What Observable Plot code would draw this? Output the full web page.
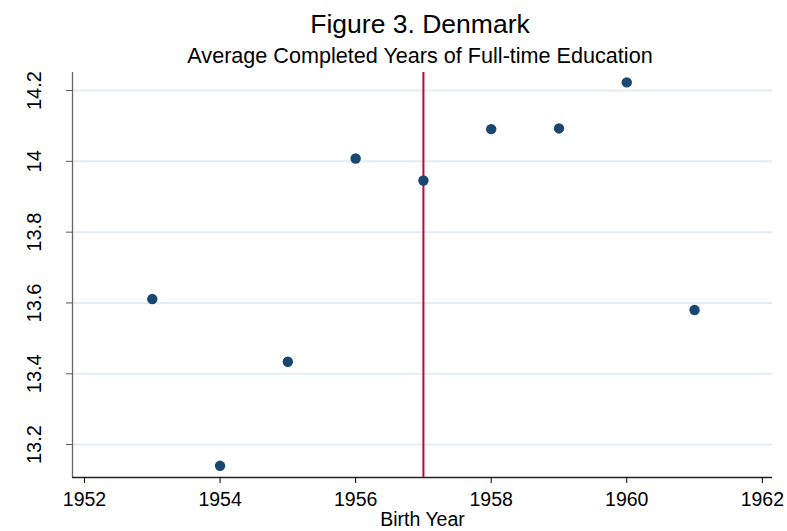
<!DOCTYPE html>
<html>
<head>
<meta charset="utf-8">
<script src="https://cdn.jsdelivr.net/npm/d3@7"></script>
<script src="https://cdn.jsdelivr.net/npm/@observablehq/plot@0.6"></script>
<style>
  body { margin: 0; background: #fff; font-family: "Liberation Sans", Arial, sans-serif; }
  #wrap { width: 787px; height: 531px; overflow: hidden; }
  #head { position: relative; height: 62px; }
  #title, #subtitle { position: absolute; left: 52px; width: 736px; text-align: center; color: #000; white-space: nowrap; }
  #title { font-size: 26.5px; line-height: 26.5px; top: 10.5px; }
  #subtitle { font-size: 21.6px; line-height: 21.6px; top: 44.5px; }
</style>
</head>
<body>
<div id="wrap">
  <div id="head">
    <div id="title">Figure 3. Denmark</div>
    <div id="subtitle">Average Completed Years of Full-time Education</div>
  </div>
  <div id="chart"></div>
</div>
<script>
// Data
const years = [1953, 1954, 1955, 1956, 1957, 1958, 1959, 1960, 1961];
const avgYears = [13.611, 13.140, 13.434, 14.008, 13.946, 14.091, 14.093, 14.223, 13.580];
const cutoffYear = [1957];
const xTicks = [1952, 1954, 1956, 1958, 1960, 1962];
const yTicks = [13.2, 13.4, 13.6, 13.8, 14, 14.2];
const xDomain = [1951.823, 1962.15];
const yDomain = [13.107, 14.251];

const data = years.map((y, i) => ({year: y, value: avgYears[i]}));
const font = "Liberation Sans, Arial, sans-serif";

const chart = Plot.plot({
  width: 787,
  height: 469,
  marginTop: 10,
  marginBottom: 54,
  marginLeft: 72,
  marginRight: 15,
  style: {fontFamily: font, background: "#fff", color: "#000"},
  x: {domain: xDomain},
  y: {domain: yDomain},
  marks: [
    Plot.gridY(yTicks, {stroke: "#e6edf2", strokeOpacity: 1, strokeWidth: 2}),
    Plot.ruleX([xDomain[0]], {stroke: "#666", strokeWidth: 1.3}),
    Plot.ruleY([yDomain[0]], {stroke: "#222", strokeWidth: 1.3}),
    Plot.axisY({ticks: yTicks, tickSize: 6, tickPadding: 26, tickRotate: -90,
      tickFormat: d => String(d), fontSize: 20, label: null, stroke: "#555"}),
    Plot.axisX({ticks: xTicks, tickSize: 6, tickPadding: 9,
      tickFormat: d => String(d), fontSize: 19.5, label: null}),
    Plot.text(["Birth Year"], {frameAnchor: "bottom", dy: 42, lineAnchor: "middle", fontSize: 19.5, fill: "#000"}),
    Plot.ruleX(cutoffYear, {stroke: "#c10534", strokeWidth: 2}),
    Plot.dot(data, {x: "year", y: "value", r: 5.2, fill: "#1a476f", stroke: null})
  ]
});
document.getElementById("chart").appendChild(chart);
</script>
</body>
</html>
